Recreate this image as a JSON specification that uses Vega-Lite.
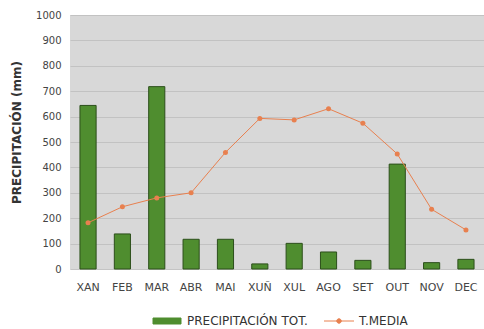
{
  "$schema": "https://vega.github.io/schema/vega-lite/v6.json",
  "width": 414,
  "height": 254,
  "autosize": {"type": "none"},
  "padding": {"left": 70, "top": 15, "right": 0, "bottom": 60},
  "background": "white",
  "config": {"view": {"fill": "#d8d8d8", "stroke": null}, "font": "DejaVu Sans"},
  "data": {"values": [
    {"mes": "XAN", "precip": 644, "tmedia": 182},
    {"mes": "FEB", "precip": 138, "tmedia": 245},
    {"mes": "MAR", "precip": 718, "tmedia": 280},
    {"mes": "ABR", "precip": 117, "tmedia": 300},
    {"mes": "MAI", "precip": 117, "tmedia": 459},
    {"mes": "XUÑ", "precip": 20, "tmedia": 593},
    {"mes": "XUL", "precip": 101, "tmedia": 587},
    {"mes": "AGO", "precip": 67, "tmedia": 631},
    {"mes": "SET", "precip": 34, "tmedia": 574},
    {"mes": "OUT", "precip": 413, "tmedia": 453},
    {"mes": "NOV", "precip": 25, "tmedia": 235},
    {"mes": "DEC", "precip": 38, "tmedia": 154}
  ]},
  "encoding": {
    "x": {
      "field": "mes", "type": "nominal", "sort": null,
      "scale": {"paddingInner": 0.53, "paddingOuter": 0.29},
      "axis": {"title": null, "labelAngle": 0, "labelFontSize": 11, "labelColor": "#444", "domain": true, "domainColor": "#c4c4c4", "ticks": false, "tickSize": 0, "labelPadding": 12}
    }
  },
  "layer": [
    {
      "mark": {"type": "bar", "stroke": "#2c4f1b", "strokeWidth": 1},
      "encoding": {
        "y": {
          "field": "precip", "type": "quantitative",
          "scale": {"domain": [0, 1000]},
          "axis": {
            "title": "PRECIPITACIÓN (mm)", "titleFontSize": 12, "titleFontWeight": "bold", "titleColor": "#333",
            "titleX": -54, "titleY": 117, "titleAngle": -90, "titleBaseline": "middle", "titleAlign": "center",
            "labelFontSize": 10, "labelColor": "#444", "format": "d", "labelOverlap": false,
            "values": [0, 100, 200, 300, 400, 500, 600, 700, 800, 900, 1000],
            "grid": true, "gridColor": "#c2c2c2", "domain": false, "ticks": false, "tickSize": 0, "labelPadding": 9
          }
        },
        "color": {
          "datum": "PRECIPITACIÓN TOT.", "type": "nominal",
          "scale": {"domain": ["PRECIPITACIÓN TOT.", "T.MEDIA"], "range": ["#4f8d2f", "#e8804f"]},
          "legend": {
            "title": null, "orient": "none", "legendX": 91, "legendY": 300, "direction": "horizontal",
            "labelFontSize": 12, "labelColor": "#333", "symbolSize": 100, "symbolStrokeWidth": 1,
            "columnPadding": 14, "labelOffset": 14, "symbolOpacity": 1,
            "symbolType": {"expr": "datum.value === 'T.MEDIA' ? 'M-3,0H3M0.45,0A0.45,0.45 0 1,1 -0.45,0A0.45,0.45 0 1,1 0.45,0Z' : 'M-2.8,-0.6H2.8V0.6H-2.8Z'"},
            "symbolFillColor": {"expr": "datum.value === 'T.MEDIA' ? '#d9622e' : '#4f8d2f'"},
            "symbolStrokeColor": {"expr": "datum.value === 'T.MEDIA' ? '#e8804f' : '#2c4f1b'"}
          }
        }
      }
    },
    {
      "mark": {"type": "line", "strokeWidth": 1, "point": {"filled": true, "size": 25, "color": "#d9622e"}},
      "encoding": {
        "y": {
          "field": "tmedia", "type": "quantitative",
          "axis": {
            "title": "PRECIPITACIÓN (mm)", "titleFontSize": 12, "titleFontWeight": "bold", "titleColor": "#333",
            "titleX": -54, "titleY": 117, "titleAngle": -90, "titleBaseline": "middle", "titleAlign": "center",
            "labelFontSize": 10, "labelColor": "#444", "format": "d", "labelOverlap": false,
            "values": [0, 100, 200, 300, 400, 500, 600, 700, 800, 900, 1000],
            "grid": true, "gridColor": "#c2c2c2", "domain": false, "ticks": false, "tickSize": 0, "labelPadding": 9
          }
        },
        "color": {"datum": "T.MEDIA", "type": "nominal"}
      }
    }
  ]
}
